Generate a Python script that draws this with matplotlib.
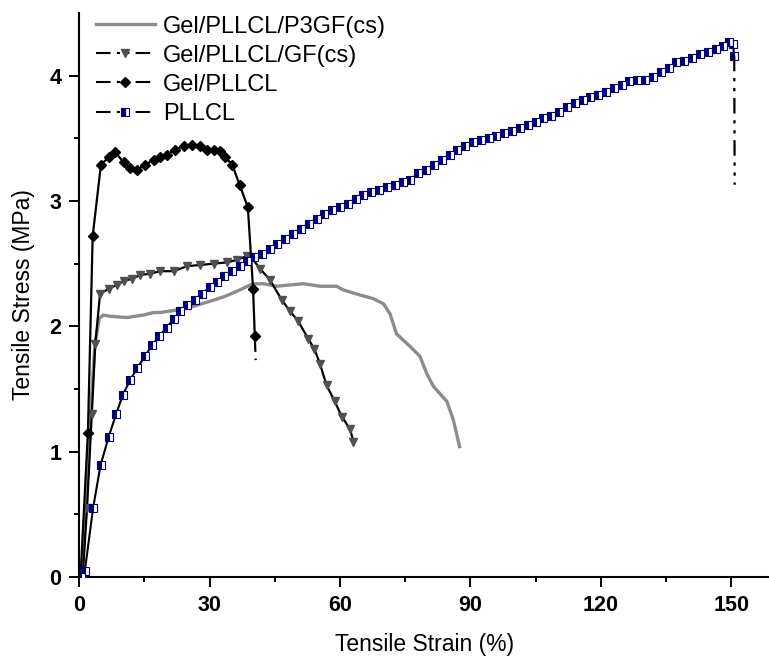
import matplotlib
matplotlib.use('Agg')
import matplotlib.pyplot as plt
from matplotlib.lines import Line2D

# ---- data (strain %, stress MPa) ----
p3gf_x = [0.5, 1.5, 2.6, 3.6, 4.6, 5.5, 7.1, 11.0, 14.8, 17.1, 18.6, 22.4, 26.3, 31.0,
          33.6, 36.3, 40.0, 42.3, 45.4, 48.5, 51.6, 55.4, 59.2, 60.8, 64.6, 67.7, 70.0,
          71.5, 73.0, 76.1, 78.4, 80.0, 81.5, 84.6, 86.1, 87.5]
p3gf_y = [0.00, 0.50, 1.30, 1.85, 2.06, 2.09, 2.08, 2.07, 2.09, 2.11, 2.11, 2.13, 2.16, 2.21,
          2.24, 2.28, 2.34, 2.34, 2.32, 2.33, 2.34, 2.32, 2.32, 2.29, 2.25, 2.22, 2.18,
          2.10, 1.94, 1.84, 1.76, 1.62, 1.52, 1.40, 1.25, 1.04]

gf_x = [0.8, 1.8, 2.9, 3.7, 4.8, 6.8, 8.6, 10.2, 12.1, 14.1, 16.3, 18.6, 21.7, 24.8, 27.9,
        30.9, 33.9, 36.3, 38.5, 39.6, 41.6, 43.9, 46.6, 48.5, 50.4, 52.7, 54.1, 55.4,
        56.9, 58.8, 60.4, 62.3, 63.1]
gf_y = [0.00, 0.55, 1.30, 1.86, 2.26, 2.30, 2.33, 2.36, 2.38, 2.41, 2.42, 2.44, 2.44, 2.48, 2.49,
        2.50, 2.51, 2.53, 2.56, 2.55, 2.46, 2.37, 2.21, 2.12, 2.04, 1.90, 1.82, 1.70,
        1.53, 1.40, 1.28, 1.18, 1.08]

gel_x = [0.3, 2.0, 3.1, 5.0, 6.8, 8.3, 10.2, 11.7, 13.3, 15.2, 17.1, 18.6, 20.1, 22.1, 24.0,
         25.9, 27.9, 29.4, 30.9, 32.3, 33.6, 35.2, 36.9, 38.8, 40.0, 40.4]
gel_y = [0.00, 1.15, 2.72, 3.29, 3.35, 3.39, 3.31, 3.26, 3.25, 3.29, 3.33, 3.35, 3.37, 3.41, 3.44,
         3.45, 3.44, 3.41, 3.41, 3.40, 3.35, 3.29, 3.13, 2.95, 2.30, 1.92]
gel_tail_x = [40.4, 40.6]
gel_tail_y = [1.92, 1.73]

pllcl_x = [0.4, 1.3, 3.2, 4.9, 6.8, 8.5, 10.0, 11.7, 13.4, 15.1, 16.8, 18.4, 20.1, 21.8, 23.3,
           24.9, 26.6, 28.2, 30.0, 31.6, 33.4, 35.2, 37.0, 38.7, 40.3, 42.0, 43.8, 45.6,
           47.4, 49.2, 51.0, 52.8, 54.6, 56.4, 58.2, 60.0, 61.8, 63.6, 65.4, 67.2, 69.0,
           70.8, 72.6, 74.4, 76.2, 78.0, 79.8, 81.6, 83.4, 85.2, 87.0, 88.8, 90.6, 92.4,
           94.2, 96.0, 97.8, 99.6, 101.4, 103.2, 105.0, 106.8, 108.6, 110.4, 112.2, 114.0,
           115.8, 117.6, 119.4, 121.2, 123.0, 124.8, 126.6, 128.4, 130.2, 132.0, 133.8,
           135.6, 137.4, 139.2, 141.0, 142.8, 144.6, 146.4, 148.2, 149.6, 150.4, 150.7]
pllcl_y = [0.00, 0.05, 0.55, 0.89, 1.12, 1.30, 1.45, 1.57, 1.67, 1.76, 1.85, 1.92, 1.99, 2.06, 2.12,
           2.17, 2.21, 2.26, 2.31, 2.35, 2.40, 2.44, 2.48, 2.52, 2.55, 2.58, 2.62, 2.66,
           2.70, 2.74, 2.78, 2.82, 2.86, 2.90, 2.93, 2.95, 2.98, 3.02, 3.05, 3.07, 3.09,
           3.11, 3.13, 3.15, 3.17, 3.22, 3.25, 3.29, 3.33, 3.37, 3.41, 3.44, 3.47, 3.49,
           3.50, 3.52, 3.54, 3.56, 3.58, 3.61, 3.63, 3.66, 3.68, 3.71, 3.75, 3.78,
           3.81, 3.83, 3.85, 3.87, 3.90, 3.93, 3.96, 3.97, 3.97, 3.99, 4.03,
           4.06, 4.11, 4.12, 4.14, 4.17, 4.19, 4.21, 4.24, 4.27, 4.25, 4.16]
pllcl_tail_x = [150.7, 150.8]
pllcl_tail_y = [4.16, 3.13]

labels = ['Gel/PLLCL/P3GF(cs)', 'Gel/PLLCL/GF(cs)', 'Gel/PLLCL', 'PLLCL']
x_ticks = [0, 30, 60, 90, 120, 150]
y_ticks = [0, 1, 2, 3, 4]

NAVY = '#00007a'
GREY = '#8c8c8c'
TRI = '#505050'
DASHDOTDOT = (0, (7, 3, 1.5, 3, 1.5, 3))
FONT = ['Liberation Sans', 'DejaVu Sans']

fig = plt.figure(figsize=(7.69, 6.57), dpi=100)
ax = fig.add_axes([0.103, 0.122, 0.897, 0.858])

ax.plot(p3gf_x, p3gf_y, color=GREY, lw=2.4, zorder=2)
ax.plot(gf_x, gf_y, color='black', lw=1.6, marker='v', ms=6,
        mfc=TRI, mec=TRI, zorder=3)
ax.plot(gel_x, gel_y, color='black', lw=1.6, marker='D', ms=5,
        mfc='black', mec='black', zorder=4)
ax.plot(gel_tail_x, gel_tail_y, color='black', lw=1.6, linestyle=DASHDOTDOT, zorder=4)
ax.plot(pllcl_x, pllcl_y, color='black', lw=1.5, marker='s', ms=5.5, fillstyle='left',
        mfc=NAVY, mfcalt='white', mec=NAVY, mew=0.8, zorder=5)
ax.plot(pllcl_tail_x, pllcl_tail_y, color='black', lw=1.6, linestyle=DASHDOTDOT, zorder=5)

ax.set_xlim(0, 158.7)
ax.set_ylim(0, 4.5)
ax.set_xticks(x_ticks)
ax.set_yticks(y_ticks)
ax.set_xticks([15, 45, 75, 105, 135], minor=True)
ax.set_yticks([0.5, 1.5, 2.5, 3.5], minor=True)
ax.tick_params(which='major', direction='out', length=7, width=1.4, pad=6)
ax.tick_params(which='minor', direction='out', length=3.5, width=1.4)
for lab in ax.get_xticklabels() + ax.get_yticklabels():
    lab.set_family(FONT)
    lab.set_fontweight('bold')
    lab.set_fontsize(15.5)

for s in ['top', 'right']:
    ax.spines[s].set_visible(False)
for s in ['left', 'bottom']:
    ax.spines[s].set_linewidth(1.5)

ax.set_xlabel('Tensile Strain (%)', fontsize=16.5, family=FONT, labelpad=12)
ax.set_ylabel('Tensile Stress (MPa)', fontsize=16.5, family=FONT, labelpad=10)

handles = [
    Line2D([], [], color=GREY, lw=2.4),
    Line2D([], [], color='black', lw=1.5, linestyle=DASHDOTDOT, marker='v', ms=6,
           mfc=TRI, mec=TRI),
    Line2D([], [], color='black', lw=1.5, linestyle=DASHDOTDOT, marker='D', ms=5,
           mfc='black', mec='black'),
    Line2D([], [], color='black', lw=1.5, linestyle=DASHDOTDOT, marker='s', ms=5.5,
           fillstyle='left', mfc=NAVY, mfcalt='white', mec=NAVY, mew=0.8),
]
ax.legend(handles, labels, loc='upper left', bbox_to_anchor=(0.0, 1.025), frameon=False,
          prop={'family': FONT, 'size': 17}, handlelength=2.5,
          handletextpad=0.35, labelspacing=0.3, borderaxespad=0.3)

fig.savefig('out.png', dpi=100)
